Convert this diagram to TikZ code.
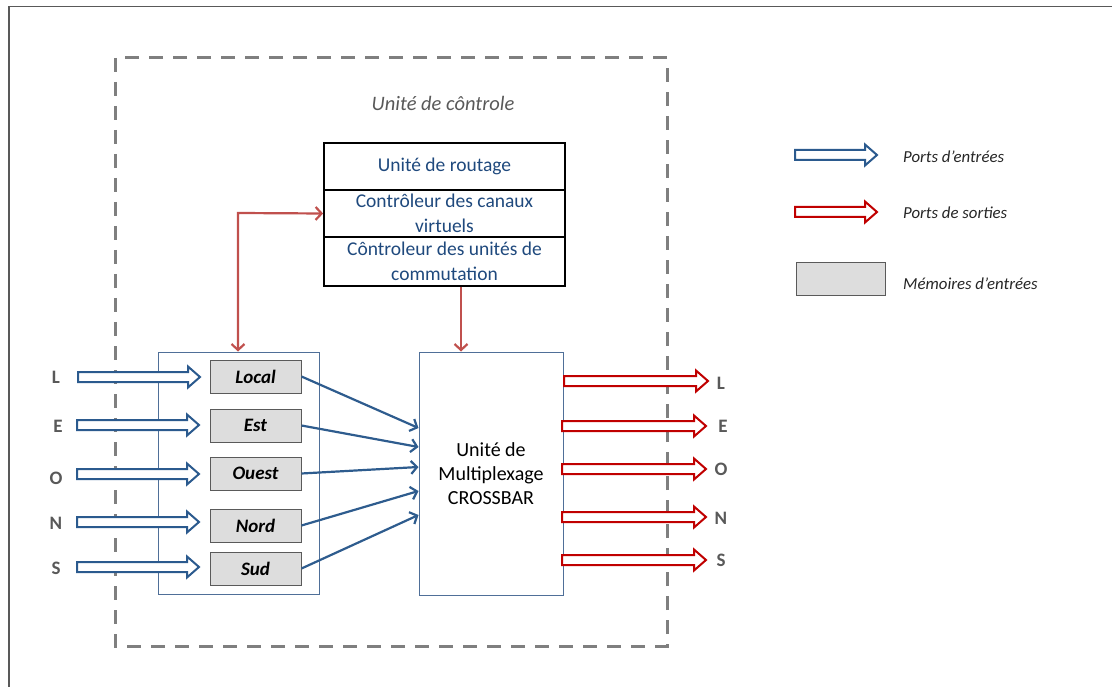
\documentclass[tikz,border=0pt]{standalone}
\usepackage{fontspec}
\setmainfont{Carlito}
\usetikzlibrary{arrows.meta,calc}
\definecolor{navy}{HTML}{1F497D}
\definecolor{portblue}{HTML}{2B5A8E}
\definecolor{conblue}{HTML}{2E5C8E}
\definecolor{boxblue}{HTML}{4F6F98}
\definecolor{portred}{HTML}{C00000}
\definecolor{conred}{HTML}{C0504D}
\definecolor{dashgray}{HTML}{7F7F7F}
\definecolor{lblgray}{HTML}{595959}
\definecolor{bufgray}{HTML}{DDDDDD}
\definecolor{bufedge}{HTML}{5A5A5A}
\definecolor{txtdark}{HTML}{262626}

% hollow block arrow: colour, start point, tip point
\newcommand\blockarrow[3]{%
  \draw[#1, line width=2pt, line join=miter, fill=white]
    let \p1=#2, \p2=#3 in
    ({\x1},{\y1+5pt}) -- ({\x2-12pt},{\y1+5pt}) -- ({\x2-12pt},{\y1+10.5pt})
    -- ({\x2},{\y1}) -- ({\x2-12pt},{\y1-10.5pt}) -- ({\x2-12pt},{\y1-5pt})
    -- ({\x1},{\y1-5pt}) -- cycle;}

\begin{document}
\begin{tikzpicture}[x=1pt,y=-1pt,
  ctlrow/.style={draw=black, line width=1.8pt, minimum width=241pt, inner sep=0pt,
    text=navy, align=center, font=\fontsize{19.5}{24.5}\selectfont},
  thinbox/.style={draw=boxblue, line width=1pt, inner sep=0pt},
  bufbox/.style={draw=bufedge, line width=1pt, fill=bufgray, minimum width=91pt,
    minimum height=33pt, inner sep=0pt, font=\bfseries\itshape\fontsize{19}{22}\selectfont},
  portlbl/.style={text=lblgray, font=\bfseries\fontsize{19}{22}\selectfont, inner sep=0pt},
  legtxt/.style={text=txtdark, anchor=west, inner sep=0pt, font=\itshape\fontsize{16.8}{20}\selectfont},
  bluecon/.style={draw=conblue, line width=2.2pt, -{Straight Barb[length=6pt,width=13pt]}},
  redcon/.style={draw=conred, line width=2.2pt, -{Straight Barb[length=6pt,width=13pt]}}]
\useasboundingbox (0,0) rectangle (1112,687);

% page frame
\draw[lblgray, line width=1.2pt] (9,687) -- (9,6.5) -- (1112,6.5);

% control unit boundary
\draw[dashgray, line width=3pt, dash pattern=on 14pt off 10pt] (115,58) rectangle (667,646);
\node[text=lblgray, font=\itshape\fontsize{20.5}{24}\selectfont] (ctltitle) at (443,103) {Unité de côntrole};

% control stack
\node[ctlrow, minimum height=47pt] (route) at (444.5,166.5) {Unité de routage};
\node[ctlrow, minimum height=47pt] (vc) at (444.5,213.5) {Contrôleur des canaux\\virtuels};
\node[ctlrow, minimum height=49pt] (sw) at (444.5,261.5) {Côntroleur des unités de\\commutation};

% input buffers and crossbar
\node[thinbox, minimum width=161pt, minimum height=242pt] (bufs) at (238.5,473) {};
\node[thinbox, minimum width=144pt, minimum height=243pt, align=center,
  font=\fontsize{20}{24}\selectfont] (xbar) at (491,473.5) {Unité de\\Multiplexage\\CROSSBAR};

\node[bufbox] (local) at (255.5,376.5) {Local};
\node[bufbox] (est)   at (255.5,425.5) {Est};
\node[bufbox] (ouest) at (255.5,473.5) {Ouest};
\node[bufbox] (nord)  at (255.5,525.5) {Nord};
\node[bufbox] (sud)   at (255.5,568.5) {Sud};

% red control links
\coordinate (bend) at (238,213);
\draw[redcon, {Straight Barb[length=6pt,width=13pt]}-{Straight Barb[length=6pt,width=13pt]}]
  (bufs.north -| bend) -- (bend) -- (vc.west);
\draw[redcon] ([xshift=16.5pt]sw.south) -- ([xshift=16.5pt]sw.south |- xbar.north);

% buffers to crossbar
\draw[bluecon] (local.east) -- ([yshift=45.5pt]xbar.west);
\draw[bluecon] (est.east)   -- ([yshift=26.5pt]xbar.west);
\draw[bluecon] (ouest.east) -- ([yshift=6.5pt]xbar.west);
\draw[bluecon] (nord.east)  -- ([yshift=-17.5pt]xbar.west);
\draw[bluecon] (sud.east)   -- ([yshift=-41.5pt]xbar.west);

% input port labels and arrows
\node[portlbl] (inL) at (56,377) {L};
\node[portlbl] (inE) at (58,426) {E};
\node[portlbl] (inO) at (56,478) {O};
\node[portlbl] (inN) at (56,523) {N};
\node[portlbl] (inS) at (56,568) {S};
\coordinate (aL0) at (78,377); \coordinate (aL1) at (200,377);
\coordinate (aE0) at (77,425); \coordinate (aE1) at (199,425);
\coordinate (aO0) at (77,474); \coordinate (aO1) at (199,474);
\coordinate (aN0) at (77,522); \coordinate (aN1) at (199,522);
\coordinate (aS0) at (77,567); \coordinate (aS1) at (199,567);
\blockarrow{portblue}{(aL0)}{(aL1)}
\blockarrow{portblue}{(aE0)}{(aE1)}
\blockarrow{portblue}{(aO0)}{(aO1)}
\blockarrow{portblue}{(aN0)}{(aN1)}
\blockarrow{portblue}{(aS0)}{(aS1)}

% output port arrows and labels
\coordinate (bL0) at (564,381); \coordinate (bL1) at (708,381);
\coordinate (bE0) at (562,426); \coordinate (bE1) at (706,426);
\coordinate (bO0) at (562,469); \coordinate (bO1) at (706,469);
\coordinate (bN0) at (562,517); \coordinate (bN1) at (706,517);
\coordinate (bS0) at (562,560); \coordinate (bS1) at (706,560);
\blockarrow{portred}{(bL0)}{(bL1)}
\blockarrow{portred}{(bE0)}{(bE1)}
\blockarrow{portred}{(bO0)}{(bO1)}
\blockarrow{portred}{(bN0)}{(bN1)}
\blockarrow{portred}{(bS0)}{(bS1)}
\node[portlbl] (outL) at (721,383) {L};
\node[portlbl] (outE) at (723,426) {E};
\node[portlbl] (outO) at (721,469) {O};
\node[portlbl] (outN) at (721,518) {N};
\node[portlbl] (outS) at (721,560) {S};

% legend
\coordinate (lg1a) at (795,155); \coordinate (lg1b) at (877,155);
\coordinate (lg2a) at (795,212); \coordinate (lg2b) at (877,212);
\blockarrow{portblue}{(lg1a)}{(lg1b)}
\blockarrow{portred}{(lg2a)}{(lg2b)}
\node[bufbox, minimum width=89pt] (lgbuf) at (840.5,279.5) {};
\node[legtxt] (lgin)  at (903,157) {Ports d’entrées};
\node[legtxt] (lgout) at (903,213) {Ports de sorties};
\node[legtxt] (lgmem) at (903,284) {Mémoires d’entrées};
\end{tikzpicture}
\end{document}
